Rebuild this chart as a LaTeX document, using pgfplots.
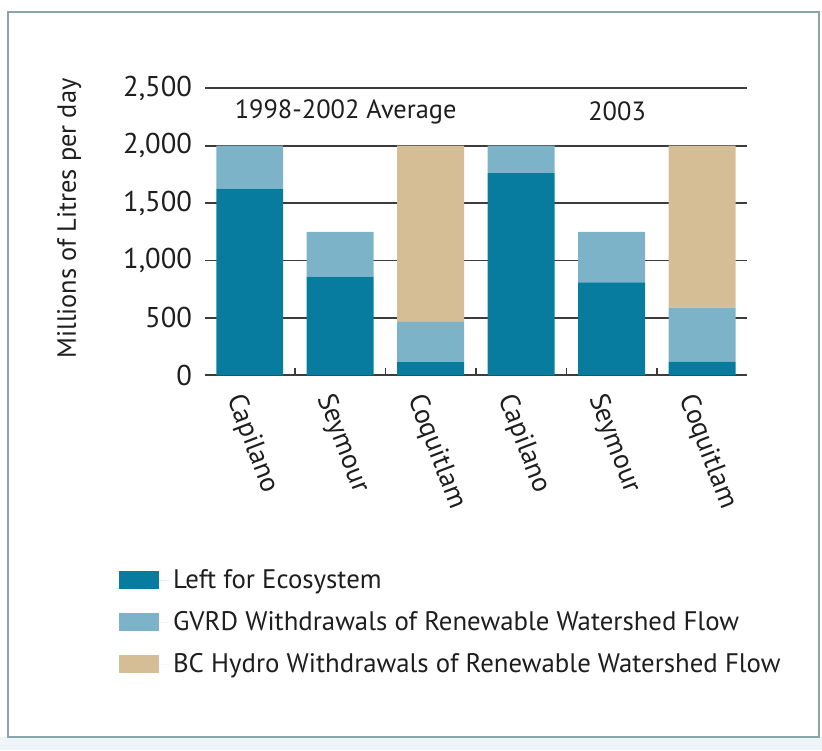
\documentclass[border=0pt]{standalone}
\usepackage{pgfplots}
\pgfplotsset{compat=1.18}
\usepackage{fontspec}
\setmainfont{PT Sans}
\newlength\PX \setlength\PX{0.5pt}
\definecolor{ecoC}{HTML}{087C9E}
\definecolor{gvrdC}{HTML}{7DB3C8}
\definecolor{bchC}{HTML}{D5BE96}
\definecolor{frameC}{HTML}{8AA6AA}
\definecolor{gridC}{HTML}{3C3C3C}
\definecolor{txtC}{HTML}{1E1E1E}
\definecolor{bandC}{HTML}{EEF4F7}
\newcommand\tickfont{\fontsize{14.3}{16}\selectfont}
\newcommand\labfont{\fontsize{13.2}{15}\selectfont}
\begin{document}
\begin{tikzpicture}[x=0.5pt,y=0.5pt]
\useasboundingbox (0,0) rectangle (822,750);
\fill[bandC] (0,0) rectangle (822,13);
\draw[frameC, line width=2\PX] (8,13) rectangle (819,738);
\begin{axis}[
  at={(227,326.1)}, anchor=south west, scale only axis,
  width=542\PX, height=287.2\PX,
  xmin=-0.49, xmax=5.5, ymin=0, ymax=2500,
  ybar stacked, bar width=0.74,
  axis line style={draw=none},
  tick pos=left,
  ytick={0,500,...,2500}, ymajorgrids,
  grid style={gridC, line width=1.8\PX},
  ytick style={draw=none},
  scaled y ticks=false,
  yticklabel style={font=\tickfont, text=txtC, /pgf/number format/1000 sep={,}, /pgf/number format/assume math mode=true, anchor=east, inner sep=0pt, xshift=-13\PX},
  xtick={0,...,5},
  xticklabels={Capilano,Seymour,Coquitlam,Capilano,Seymour,Coquitlam},
  xtick style={draw=none},
  xticklabel style={font=\fontsize{13.8}{15}\selectfont, text=txtC, inner sep=0pt, anchor=west, xshift=-16\PX, yshift=-20\PX, rotate=-69},
  extra x ticks={0.5,1.5,2.5,3.5,4.5},
  extra x tick labels={},
  extra x tick style={xtick style={draw=gridC, line width=1.8\PX}, major tick length=7\PX, tick align=inside},
  ylabel={Millions of Litres per day},
  ylabel style={at={(axis description cs:-0.251,0.546)}, anchor=center, font=\labfont, text=txtC},
  legend style={at={(axis description cs:-0.160,-0.660)}, anchor=north west, draw=none, fill=none, inner sep=0pt, font=\fontsize{13.4}{15}\selectfont, text=txtC, row sep=12\PX},
  legend cell align=left,
  legend image code/.code={\fill[#1] (0,-9\PX) rectangle (40\PX,9\PX); \path (0,0) -- (50\PX,0);},
]
\addplot+[fill=ecoC, draw=none] coordinates {(0,1625) (1,860) (2,115) (3,1760) (4,810) (5,120)};
\addplot+[fill=gvrdC, draw=none] coordinates {(0,375) (1,390) (2,350) (3,240) (4,440) (5,470)};
\addplot+[fill=bchC, draw=none] coordinates {(0,0) (1,0) (2,1535) (3,0) (4,0) (5,1410)};
\legend{Left for Ecosystem, GVRD Withdrawals of Renewable Watershed Flow, BC Hydro Withdrawals of Renewable Watershed Flow}
\node[font=\labfont, text=txtC] at (axis cs:1.06,2295) {1998-2002 Average};
\node[font=\labfont, text=txtC] at (axis cs:4.06,2295) {2003};
\end{axis}
\end{tikzpicture}
\end{document}
